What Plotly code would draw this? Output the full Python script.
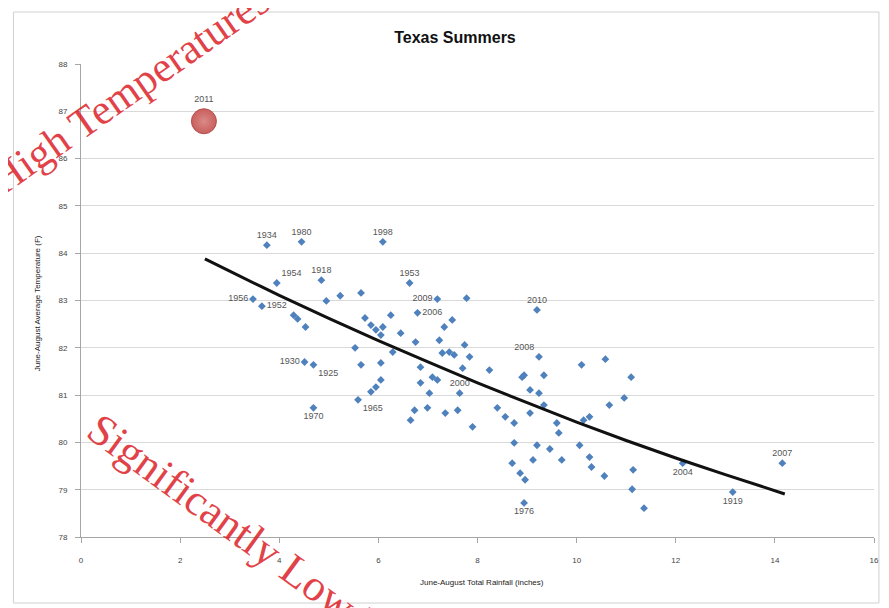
import plotly.graph_objects as go

# ---- data ----
labeled_years = ["1934", "1980", "1998", "1954", "1918", "1953", "1956", "1952", "2009",
                 "2006", "2010", "2008", "1930", "1925", "1970", "1965", "2000", "2007",
                 "2004", "1919", "1976"]
labeled_rain = [3.75, 4.45, 6.09, 3.95, 4.85, 6.63, 3.47, 3.65, 7.19,
                6.79, 9.20, 9.24, 4.51, 4.69, 4.69, 5.59, 7.64, 14.15,
                12.14, 13.15, 8.94]
labeled_temp = [84.17, 84.24, 84.24, 83.37, 83.43, 83.37, 83.03, 82.88, 83.03,
                82.74, 82.80, 81.81, 81.70, 81.64, 80.73, 80.90, 81.04, 79.56,
                79.56, 78.95, 78.72]
label_pos = ["top center", "top center", "top center", "top right", "top center", "top center",
             "middle left", "middle right", "middle left", "middle right", "top center", "top left",
             "middle left", "bottom right", "bottom center", "bottom right", "top center", "top center",
             "bottom center", "bottom center", "bottom center"]

other_rain = [4.29, 4.37, 4.53, 4.95, 5.23, 5.65, 5.73, 5.85, 5.95, 6.05, 6.09, 6.25,
              5.53, 5.65, 6.05, 7.78, 7.49, 7.33, 6.45, 6.75, 7.23, 7.74, 7.29, 7.43,
              7.53, 7.84, 6.85, 7.70, 8.24, 8.94, 9.34, 10.10, 10.58, 11.10, 9.06, 9.24,
              10.96, 10.66, 9.06, 8.40, 8.56, 8.74, 9.60, 9.64, 10.14, 10.26, 8.74, 9.20,
              9.46, 10.06, 10.26, 9.70, 9.12, 8.70, 11.14, 10.30, 10.56, 8.86, 8.96, 11.12,
              11.36, 7.09, 7.19, 6.85, 7.03, 6.73, 6.65, 6.99, 7.35, 7.60, 7.90, 8.90,
              9.34, 6.05, 5.95, 5.85, 6.29]
other_temp = [82.69, 82.61, 82.44, 82.99, 83.10, 83.16, 82.63, 82.48, 82.38, 82.27, 82.44, 82.69,
              82.00, 81.64, 81.68, 83.05, 82.59, 82.44, 82.31, 82.12, 82.16, 82.06, 81.89, 81.91,
              81.85, 81.81, 81.59, 81.57, 81.53, 81.42, 81.42, 81.64, 81.76, 81.38, 81.11, 81.04,
              80.94, 80.79, 80.62, 80.73, 80.54, 80.41, 80.41, 80.20, 80.47, 80.54, 79.99, 79.94,
              79.86, 79.94, 79.69, 79.63, 79.63, 79.56, 79.42, 79.48, 79.29, 79.35, 79.21, 79.01,
              78.61, 81.38, 81.32, 81.26, 81.04, 80.68, 80.47, 80.73, 80.62, 80.68, 80.33, 81.38,
              80.79, 81.32, 81.17, 81.07, 81.91]

highlight_year = ["2011"]
highlight_rain = [2.48]
highlight_temp = [86.79]

trend_rain = [2.5, 3, 4, 5, 6, 7, 8, 9, 10, 11, 12, 13, 14.2]
trend_temp = [83.88, 83.62, 83.11, 82.62, 82.15, 81.70, 81.26, 80.84, 80.43, 80.04, 79.67, 79.32, 78.91]

x_ticks = [0, 2, 4, 6, 8, 10, 12, 14, 16]
y_ticks = [78, 79, 80, 81, 82, 83, 84, 85, 86, 87, 88]

# ---- figure ----
OFF = 8                      # page body margin of the browser
W, H = 889 - OFF, 608 - OFF
L, R, T, B = 81 - OFF, 10, 64 - OFF, 71
pw, ph = W - L - R, H - T - B

def px_to_paper(px, py):
    # screen pixel -> paper coordinates
    fx, fy = px - OFF, py - OFF
    return (fx - L) / pw, (H - B - fy) / ph

fig = go.Figure()

fig.add_trace(go.Scatter(
    x=other_rain, y=other_temp, mode="markers",
    marker=dict(symbol="diamond", size=6, color="#4F81BD"),
    hoverinfo="x+y", showlegend=False))

fig.add_trace(go.Scatter(
    x=labeled_rain, y=labeled_temp, mode="markers+text",
    text=labeled_years, textposition=label_pos,
    textfont=dict(family="Arial, Liberation Sans, sans-serif", size=9, color="#555555"),
    marker=dict(symbol="diamond", size=6, color="#4F81BD"),
    showlegend=False))

fig.add_trace(go.Scatter(
    x=trend_rain, y=trend_temp, mode="lines",
    line=dict(color="#111111", width=3, shape="spline"),
    hoverinfo="skip", showlegend=False))

fig.add_trace(go.Scatter(
    x=highlight_rain, y=highlight_temp, mode="markers+text",
    text=highlight_year, textposition="top center",
    textfont=dict(family="Arial, Liberation Sans, sans-serif", size=9, color="#555555"),
    marker=dict(symbol="circle", size=25, color="#C95F5C",
                line=dict(color="#B5504D", width=1),
                gradient=dict(type="radial", color="#D98A88")),
    showlegend=False))

axis_font = dict(family="Arial, Liberation Sans, sans-serif", size=8, color="#444444")

fig.update_xaxes(range=[0, 16], tickvals=x_ticks, showgrid=False, zeroline=False,
                 showline=True, linecolor="#A6A6A6", linewidth=1,
                 ticks="outside", ticklen=5, tickcolor="#A6A6A6",
                 ticklabelstandoff=10, tickfont=axis_font)
fig.update_yaxes(range=[78, 88], tickvals=y_ticks, showgrid=True, gridcolor="#D9D9D9",
                 gridwidth=1, zeroline=False, showline=True, linecolor="#A6A6A6", linewidth=1,
                 ticks="outside", ticklen=5, tickcolor="#A6A6A6",
                 ticklabelstandoff=6, tickfont=axis_font)

ann = []
x0, y0 = px_to_paper(37, 303)
ann.append(dict(x=x0, y=y0, xref="paper", yref="paper", text="June-August Average Temperature (F)",
                textangle=-90, showarrow=False, xanchor="center", yanchor="middle",
                font=dict(family="Arial, Liberation Sans, sans-serif", size=8, color="#222222")))
x0, y0 = px_to_paper(485, 582)
ann.append(dict(x=x0, y=y0, xref="paper", yref="paper", text="June-August Total Rainfall (inches)",
                showarrow=False, xanchor="center", yanchor="middle",
                font=dict(family="Arial, Liberation Sans, sans-serif", size=8, color="#222222")))
x0, y0 = px_to_paper(130, 90)
ann.append(dict(x=x0, y=y0, xref="paper", yref="paper", text="High Temperatures",
                textangle=-35, showarrow=False, xanchor="center", yanchor="middle",
                font=dict(family="Liberation Serif, DejaVu Serif, serif", size=43,
                          color="rgba(220,30,40,0.85)")))
x0, y0 = px_to_paper(285, 562)
ann.append(dict(x=x0, y=y0, xref="paper", yref="paper", text="Significantly Low Rainfall",
                textangle=36, showarrow=False, xanchor="center", yanchor="middle",
                font=dict(family="Liberation Serif, DejaVu Serif, serif", size=44,
                          color="rgba(220,30,40,0.85)")))

bx0, by1 = px_to_paper(13, 12)
bx1, by0 = px_to_paper(884, 603)
shapes = [dict(type="rect", xref="paper", yref="paper", x0=bx0, x1=bx1, y0=by0, y1=by1,
               line=dict(color="#D0D0D0", width=1), layer="below")]

fig.update_layout(
    width=W, height=H,
    margin=dict(l=L, r=R, t=T, b=B),
    paper_bgcolor="white", plot_bgcolor="white",
    title=dict(text="<b>Texas Summers</b>", x=(455 - OFF) / W, xanchor="center",
               y=1 - (37 - OFF) / H, yanchor="middle", xref="container", yref="container",
               font=dict(family="Arial, Liberation Sans, sans-serif", size=16, color="#111111")),
    annotations=ann, shapes=shapes,
)

fig.write_html("out.html")
